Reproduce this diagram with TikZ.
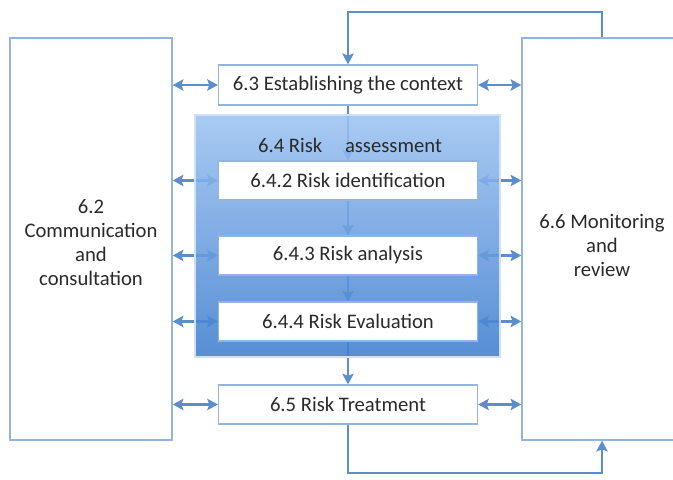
\documentclass[tikz,border=0pt]{standalone}
\usepackage{fontspec}
\setmainfont{Carlito}
\usetikzlibrary{arrows.meta}
\definecolor{edgeblue}{HTML}{93B4DC}
\definecolor{flowblue}{HTML}{5B8FCB}
\definecolor{panellight}{HTML}{9DC3F1}
\definecolor{panelmid}{HTML}{77AAEA}
\definecolor{paneldark}{HTML}{3F7ECE}
\definecolor{textgrey}{HTML}{2A2A2A}
\pgfdeclarelayer{back}
\pgfdeclarelayer{panel}
\pgfsetlayers{back,panel,main}
\begin{document}
\begin{tikzpicture}
    [
      x=0.75pt,
      y=-0.75pt,
      font=\fontsize{15.5}{18}\selectfont,
      stepbox/.style=
      {
        draw=edgeblue,
        line width=1.1pt,
        fill=white,
        text=textgrey,
        minimum width=194pt,
        minimum height=29pt,
        inner sep=0pt,
      },
      side/.style=
      {
        draw=edgeblue,
        line width=1.1pt,
        fill=white,
        text=textgrey,
        align=center,
        minimum width=121.5pt,
        minimum height=301.5pt,
        inner sep=0pt,
      },
      flow/.style=
      {
        draw=flowblue,
        line width=2pt,
        -{Stealth[length=8pt,width=8.5pt,inset=1.5pt]},
      },
      twoway/.style=
      {
        flow,
        {Stealth[length=8pt,width=8.5pt,inset=1.5pt]}-{Stealth[length=8pt,width=8.5pt,inset=1.5pt]},
      }
    ]
    \useasboundingbox (0,0) rectangle (673,479);
    \clip (0,0) rectangle (673,479);

    % the two side boxes
    \node[side](Communicate) at (91,239) {};
    \node[text=textgrey, align=center](CommunicateText) at (91,243) {6.2\\Communication\\and\\consultation};
    \node[side, minimum width=135pt](Monitor) at (612,239) {};
    \node[text=textgrey, align=center](MonitorText) at (602,245) {6.6 Monitoring\\and\\review};

    % the steps
    \node[stepbox, minimum height=30pt](Context) at (348,85) {6.3 Establishing the context};
    \node[stepbox, below of=Context, node distance=71.6pt](Identify) {6.4.2 Risk identification};
    \node[stepbox, below of=Identify, node distance=56.25pt](Analyse) {6.4.3 Risk analysis};
    \node[stepbox, below of=Analyse, node distance=49.5pt](Evaluate) {6.4.4 Risk Evaluation};
    \node[stepbox, below of=Evaluate, node distance=62.25pt](Treat) {6.5 Risk Treatment};

    % risk assessment panel
    \begin{pgfonlayer}{panel}
      \node[minimum width=228.75pt, minimum height=181.5pt, inner sep=0pt,
            top color=panellight, middle color=panelmid, bottom color=paneldark, fill opacity=0.88,
            draw=panellight!50!white, line width=0.8pt](Assess) at (347.5,236) {};
    \end{pgfonlayer}
    \node[text=textgrey](AssessTitle) at (350,145) {6.4 Risk\hspace{17pt}assessment};

    \coordinate (TopTurn) at (602,12);
    \coordinate (BottomTurn) at (602,473);

    \begin{pgfonlayer}{back}
      \draw[flow] (Context) -- (Identify);
      \draw[flow] (Identify) -- (Analyse);
      \draw[flow] (Analyse) -- (Evaluate);
      \draw[flow] (Evaluate) -- (Treat);
      \draw[flow] (TopTurn |- Monitor.north) -- (TopTurn) -| (Context.north);
      \draw[flow] (Treat.south) |- (BottomTurn) -- (BottomTurn |- Monitor.south);
      \foreach \n in {Context,Identify,Analyse,Evaluate,Treat}
      {
        \draw[twoway] (Communicate.east |- \n.west) -- (\n.west);
        \draw[twoway] (\n.east) -- (Monitor.west |- \n.east);
      }
    \end{pgfonlayer}
  \end{tikzpicture}
\end{document}
